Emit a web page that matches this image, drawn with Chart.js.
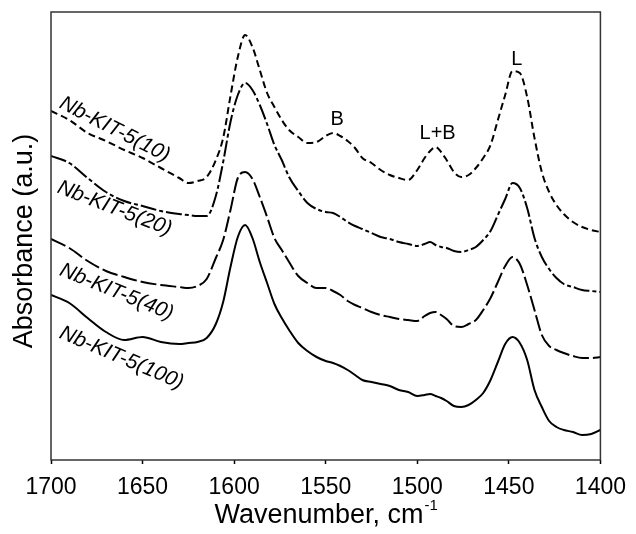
<!DOCTYPE html>
<html><head><meta charset="utf-8">
<script src="https://cdn.jsdelivr.net/npm/chart.js@4/dist/chart.umd.min.js"></script>
<style>html,body{margin:0;padding:0;background:#fff}</style>
</head><body>
<canvas id="c" width="636" height="534"></canvas>
<script>
const wavenumbers = [1700,1690,1680,1670,1660,1650,1640,1630,1625,1620,1615,1610,1606,1602,1598,1594,1590,1586,1582,1578,1574,1570,1565,1560,1555,1550,1546,1542,1538,1534,1530,1525,1520,1515,1510,1505,1500,1496,1493,1490,1487,1484,1480,1476,1472,1468,1464,1460,1456,1452,1448,1444,1440,1436,1432,1428,1424,1420,1415,1410,1405,1400];
const nb10 = [3.49,3.40,3.27,3.19,3.10,3.02,2.92,2.82,2.77,2.79,2.83,3.00,3.22,3.64,4.03,4.25,4.13,3.90,3.67,3.53,3.40,3.30,3.23,3.17,3.18,3.24,3.27,3.24,3.19,3.12,3.02,2.97,2.90,2.85,2.82,2.80,2.90,3.02,3.09,3.13,3.08,3.00,2.88,2.83,2.85,2.92,3.02,3.15,3.40,3.65,3.89,3.87,3.63,3.22,2.88,2.68,2.55,2.46,2.38,2.33,2.30,2.28];
const nb20 = [3.04,2.97,2.82,2.68,2.59,2.54,2.49,2.46,2.45,2.44,2.44,2.64,2.98,3.38,3.65,3.77,3.70,3.55,3.36,3.15,3.00,2.83,2.69,2.57,2.51,2.48,2.47,2.43,2.38,2.34,2.31,2.27,2.23,2.21,2.18,2.16,2.14,2.16,2.18,2.15,2.13,2.12,2.09,2.08,2.10,2.13,2.20,2.29,2.45,2.61,2.77,2.72,2.52,2.22,2.03,1.91,1.82,1.76,1.73,1.70,1.69,1.68];
const nb40 = [2.21,2.12,1.99,1.89,1.83,1.78,1.75,1.73,1.72,1.74,1.81,2.02,2.20,2.50,2.82,2.88,2.81,2.63,2.43,2.22,2.10,1.98,1.84,1.77,1.72,1.72,1.69,1.65,1.59,1.55,1.52,1.48,1.45,1.43,1.41,1.40,1.39,1.44,1.47,1.48,1.45,1.41,1.34,1.33,1.36,1.40,1.50,1.62,1.78,1.94,2.03,1.96,1.75,1.50,1.25,1.14,1.10,1.07,1.04,1.02,1.02,1.03];
const nb100 = [1.65,1.57,1.42,1.28,1.20,1.23,1.18,1.16,1.17,1.18,1.22,1.36,1.58,1.93,2.23,2.35,2.22,1.98,1.77,1.56,1.42,1.30,1.17,1.09,1.03,0.99,0.97,0.94,0.90,0.85,0.80,0.78,0.76,0.74,0.70,0.68,0.64,0.65,0.66,0.64,0.62,0.59,0.54,0.53,0.55,0.60,0.67,0.80,0.98,1.16,1.23,1.17,1.00,0.70,0.53,0.39,0.33,0.30,0.28,0.25,0.26,0.30];
const seriesNames = ['Nb-KIT-5(10)','Nb-KIT-5(20)','Nb-KIT-5(40)','Nb-KIT-5(100)'];
const xTicks = [1700,1650,1600,1550,1500,1450,1400];
const peakLabels = ['B','L+B','L'];
const peakLabelX = [1543.8,1488.9,1445.6];
const peakLabelY = [3.41,3.265,4.01];
const seriesLabelX = [1665.3,1665.3,1664.2,1661.5];
const seriesLabelY = [3.305,2.515,1.68,1.02];
const seriesLabelAngle = [27,21,22,23];

const FONT = "'Liberation Sans', Arial, Helvetica, sans-serif";
const seriesValues = [nb10, nb20, nb40, nb100];
const dashes = [[7,4],[16,3,4,3],[16,4],[]];

const datasets = seriesValues.map((vals, k) => ({
  label: seriesNames[k],
  data: wavenumbers.map((w, i) => ({x: w, y: vals[i]})),
  borderColor: '#000',
  borderWidth: 2,
  borderDash: dashes[k],
  pointRadius: 0,
  fill: false,
  cubicInterpolationMode: 'monotone'
}));

const decor = {
  id: 'decor',
  afterDraw(chart) {
    const ctx = chart.ctx, a = chart.chartArea;
    const sx = chart.scales.x, sy = chart.scales.y;
    ctx.save();
    ctx.strokeStyle = '#333';
    ctx.lineWidth = 1.5;
    ctx.strokeRect(a.left, a.top, a.right - a.left, a.bottom - a.top);
    ctx.fillStyle = '#000';
    ctx.font = '20px ' + FONT;
    ctx.textAlign = 'center';
    ctx.textBaseline = 'middle';
    peakLabels.forEach((t, i) => {
      ctx.fillText(t, sx.getPixelForValue(peakLabelX[i]), sy.getPixelForValue(peakLabelY[i]));
    });
    ctx.font = 'italic 21px ' + FONT;
    seriesNames.forEach((t, i) => {
      ctx.save();
      ctx.translate(sx.getPixelForValue(seriesLabelX[i]), sy.getPixelForValue(seriesLabelY[i]));
      ctx.rotate(seriesLabelAngle[i] * Math.PI / 180);
      ctx.fillText(t, 0, 0);
      ctx.restore();
    });
    ctx.save();
    ctx.font = '27px ' + FONT;
    ctx.translate(25, (a.top + a.bottom) / 2 + 5);
    ctx.rotate(-Math.PI / 2);
    ctx.fillText('Absorbance (a.u.)', 0, 0);
    ctx.restore();
    ctx.textBaseline = 'alphabetic';
    ctx.textAlign = 'left';
    const main = 'Wavenumber, cm';
    ctx.font = '27px ' + FONT;
    const w1 = ctx.measureText(main).width;
    ctx.font = '15px ' + FONT;
    const w2 = ctx.measureText('-1').width;
    const x0 = (a.left + a.right) / 2 - (w1 + w2) / 2;
    const yb = a.bottom + 63;
    ctx.font = '27px ' + FONT;
    ctx.fillText(main, x0, yb);
    ctx.font = '15px ' + FONT;
    ctx.fillText('-1', x0 + w1 + 1, yb - 13);
    ctx.restore();
  }
};

new Chart(document.getElementById('c'), {
  type: 'line',
  data: { datasets },
  options: {
    responsive: false,
    animation: false,
    layout: { padding: { left: 51, top: 12, right: 32, bottom: 34 } },
    plugins: { legend: { display: false }, tooltip: { enabled: false } },
    scales: {
      x: {
        type: 'linear',
        reverse: true,
        min: 1400,
        max: 1700,
        afterFit(s) { s.height = 40; },
        afterBuildTicks(s) { s.ticks = xTicks.map(v => ({ value: v })); },
        grid: { display: true, drawOnChartArea: false, drawTicks: true, tickLength: 4, tickColor: '#000', tickWidth: 1.5 },
        border: { display: false },
        ticks: { display: true, font: { size: 23, family: FONT }, color: '#000', padding: 10, maxRotation: 0, autoSkip: false, callback: v => String(v) }
      },
      y: { display: false, min: 0, max: 4.48 }
    }
  },
  plugins: [decor]
});
</script>
</body></html>
